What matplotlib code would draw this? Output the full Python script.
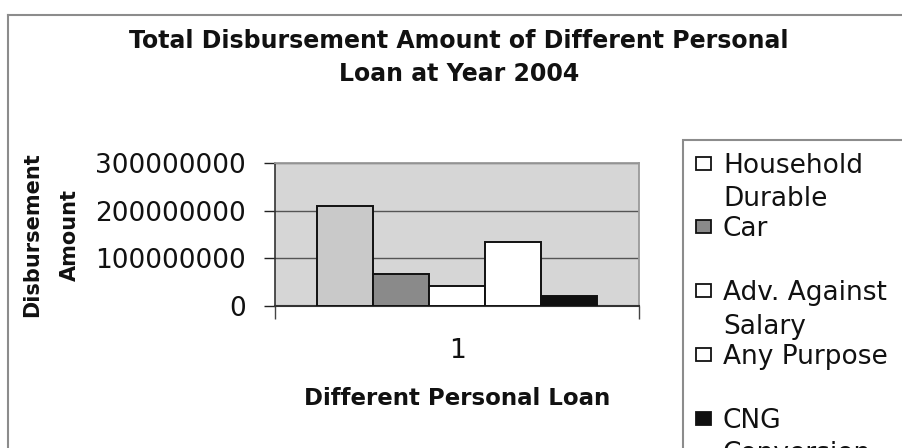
import matplotlib
matplotlib.use("Agg")
import matplotlib.pyplot as plt
from matplotlib.patches import Rectangle
from matplotlib.lines import Line2D
from matplotlib.ticker import FuncFormatter

# ---- data ----
categories = ["Household\nDurable", "Car", "Adv. Against\nSalary", "Any Purpose", "CNG\nConversion"]
values = [210e6, 68e6, 41e6, 135e6, 22e6]
group_labels = ["1"]
y_ticks = [0, 100000000, 200000000, 300000000]
title = "Total Disbursement Amount of Different Personal\nLoan at Year 2004"
x_title = "Different Personal Loan"
y_title = "Disbursement\nAmount"

# ---- style ----
bar_colors = ["#c9c9c9", "#8a8a8a", "#ffffff", "#ffffff", "#101010"]
legend_colors = ["#ffffff", "#8a8a8a", "#ffffff", "#ffffff", "#101010"]
W, H = 902, 448


def fx(x):
    return x / W


def fy(y):
    return 1 - y / H


plt.rcParams['font.family'] = ['DejaVu Sans']
fig = plt.figure(figsize=(W / 100, H / 100), dpi=100)

# outer chart border (partially visible)
fig.add_artist(Line2D([fx(8), fx(8)], [fy(15), fy(460)], transform=fig.transFigure,
                      color="#8c8c8c", lw=1.5))
fig.add_artist(Line2D([fx(8), fx(910)], [fy(15), fy(15)], transform=fig.transFigure,
                      color="#8c8c8c", lw=1.5))

ax = fig.add_axes([fx(275), fy(306), (639 - 275) / W, (306 - 163) / H])
ax.set_facecolor("#d6d6d6")

n = len(values)
bw = 0.154
for i, (v, c) in enumerate(zip(values, bar_colors)):
    ax.bar(1 + (i - (n - 1) / 2) * bw, v, width=bw, color=c, edgecolor="#111111",
           linewidth=1.4, zorder=3)

ax.set_xlim(0.5, 1.5)
ax.set_ylim(y_ticks[0], y_ticks[-1])
ax.set_yticks(y_ticks)
ax.yaxis.set_major_formatter(FuncFormatter(lambda v, p: f"{int(v)}"))
ax.tick_params(axis="y", length=8, width=1, pad=13, labelsize=19, colors="#222222",
               labelcolor="#111111")
ax.set_xticks([0.5, 1.5])
ax.set_xticklabels(["", ""])
ax.tick_params(axis="x", which="major", length=9, width=1, colors="#444444")
ax.set_xticks([1], minor=True)
ax.set_xticklabels(group_labels, minor=True)
ax.tick_params(axis="x", which="minor", length=0, pad=23, labelsize=19, labelcolor="#111111")

ax.yaxis.grid(True, color="#555555", lw=1)
ax.set_axisbelow(True)
for s in ["top", "right"]:
    ax.spines[s].set_color("#9a9a9a")
    ax.spines[s].set_linewidth(1.3)
ax.spines["left"].set_color("#333333")
ax.spines["bottom"].set_color("#333333")
ax.spines["left"].set_linewidth(1.2)
ax.spines["bottom"].set_linewidth(1.5)

ax.set_xlabel(x_title, fontsize=16.5, fontweight="bold", va="center", color="#111111")
ax.xaxis.set_label_coords(0.5, -(398 - 306) / (306 - 163))
ax.set_ylabel(y_title, fontsize=15, fontweight="bold", va="center", ha="center",
              linespacing=2.05, color="#111111")
ax.yaxis.set_label_coords((51 - 275) / (639 - 275), 0.5)

fig.text(fx(459), fy(29), title, ha="center", va="top", fontsize=17,
         fontweight="bold", linespacing=1.45, color="#111111")

# legend (partly cut off by the image edge, as in the reference)
fig.add_artist(Rectangle((fx(683), fy(470)), fx(950) - fx(683), fy(140) - fy(470),
                         transform=fig.transFigure, facecolor="white",
                         edgecolor="#8c8c8c", lw=1.5, zorder=1))
em = 19 * 100 / 72
for i, (lab, c) in enumerate(zip(categories, legend_colors)):
    y0 = 163 + i * 63.75
    fig.add_artist(Rectangle((fx(696), fy(y0 + 6.5)), 15 / W, 13 / H,
                             transform=fig.transFigure, facecolor=c,
                             edgecolor="#111111", lw=1.3, zorder=2))
    fig.text(fx(723), fy(y0 - 0.395 * em), lab, ha="left", va="top", fontsize=19,
             linespacing=1.38, color="#111111", zorder=3)

fig.savefig("out.png", dpi=100)
